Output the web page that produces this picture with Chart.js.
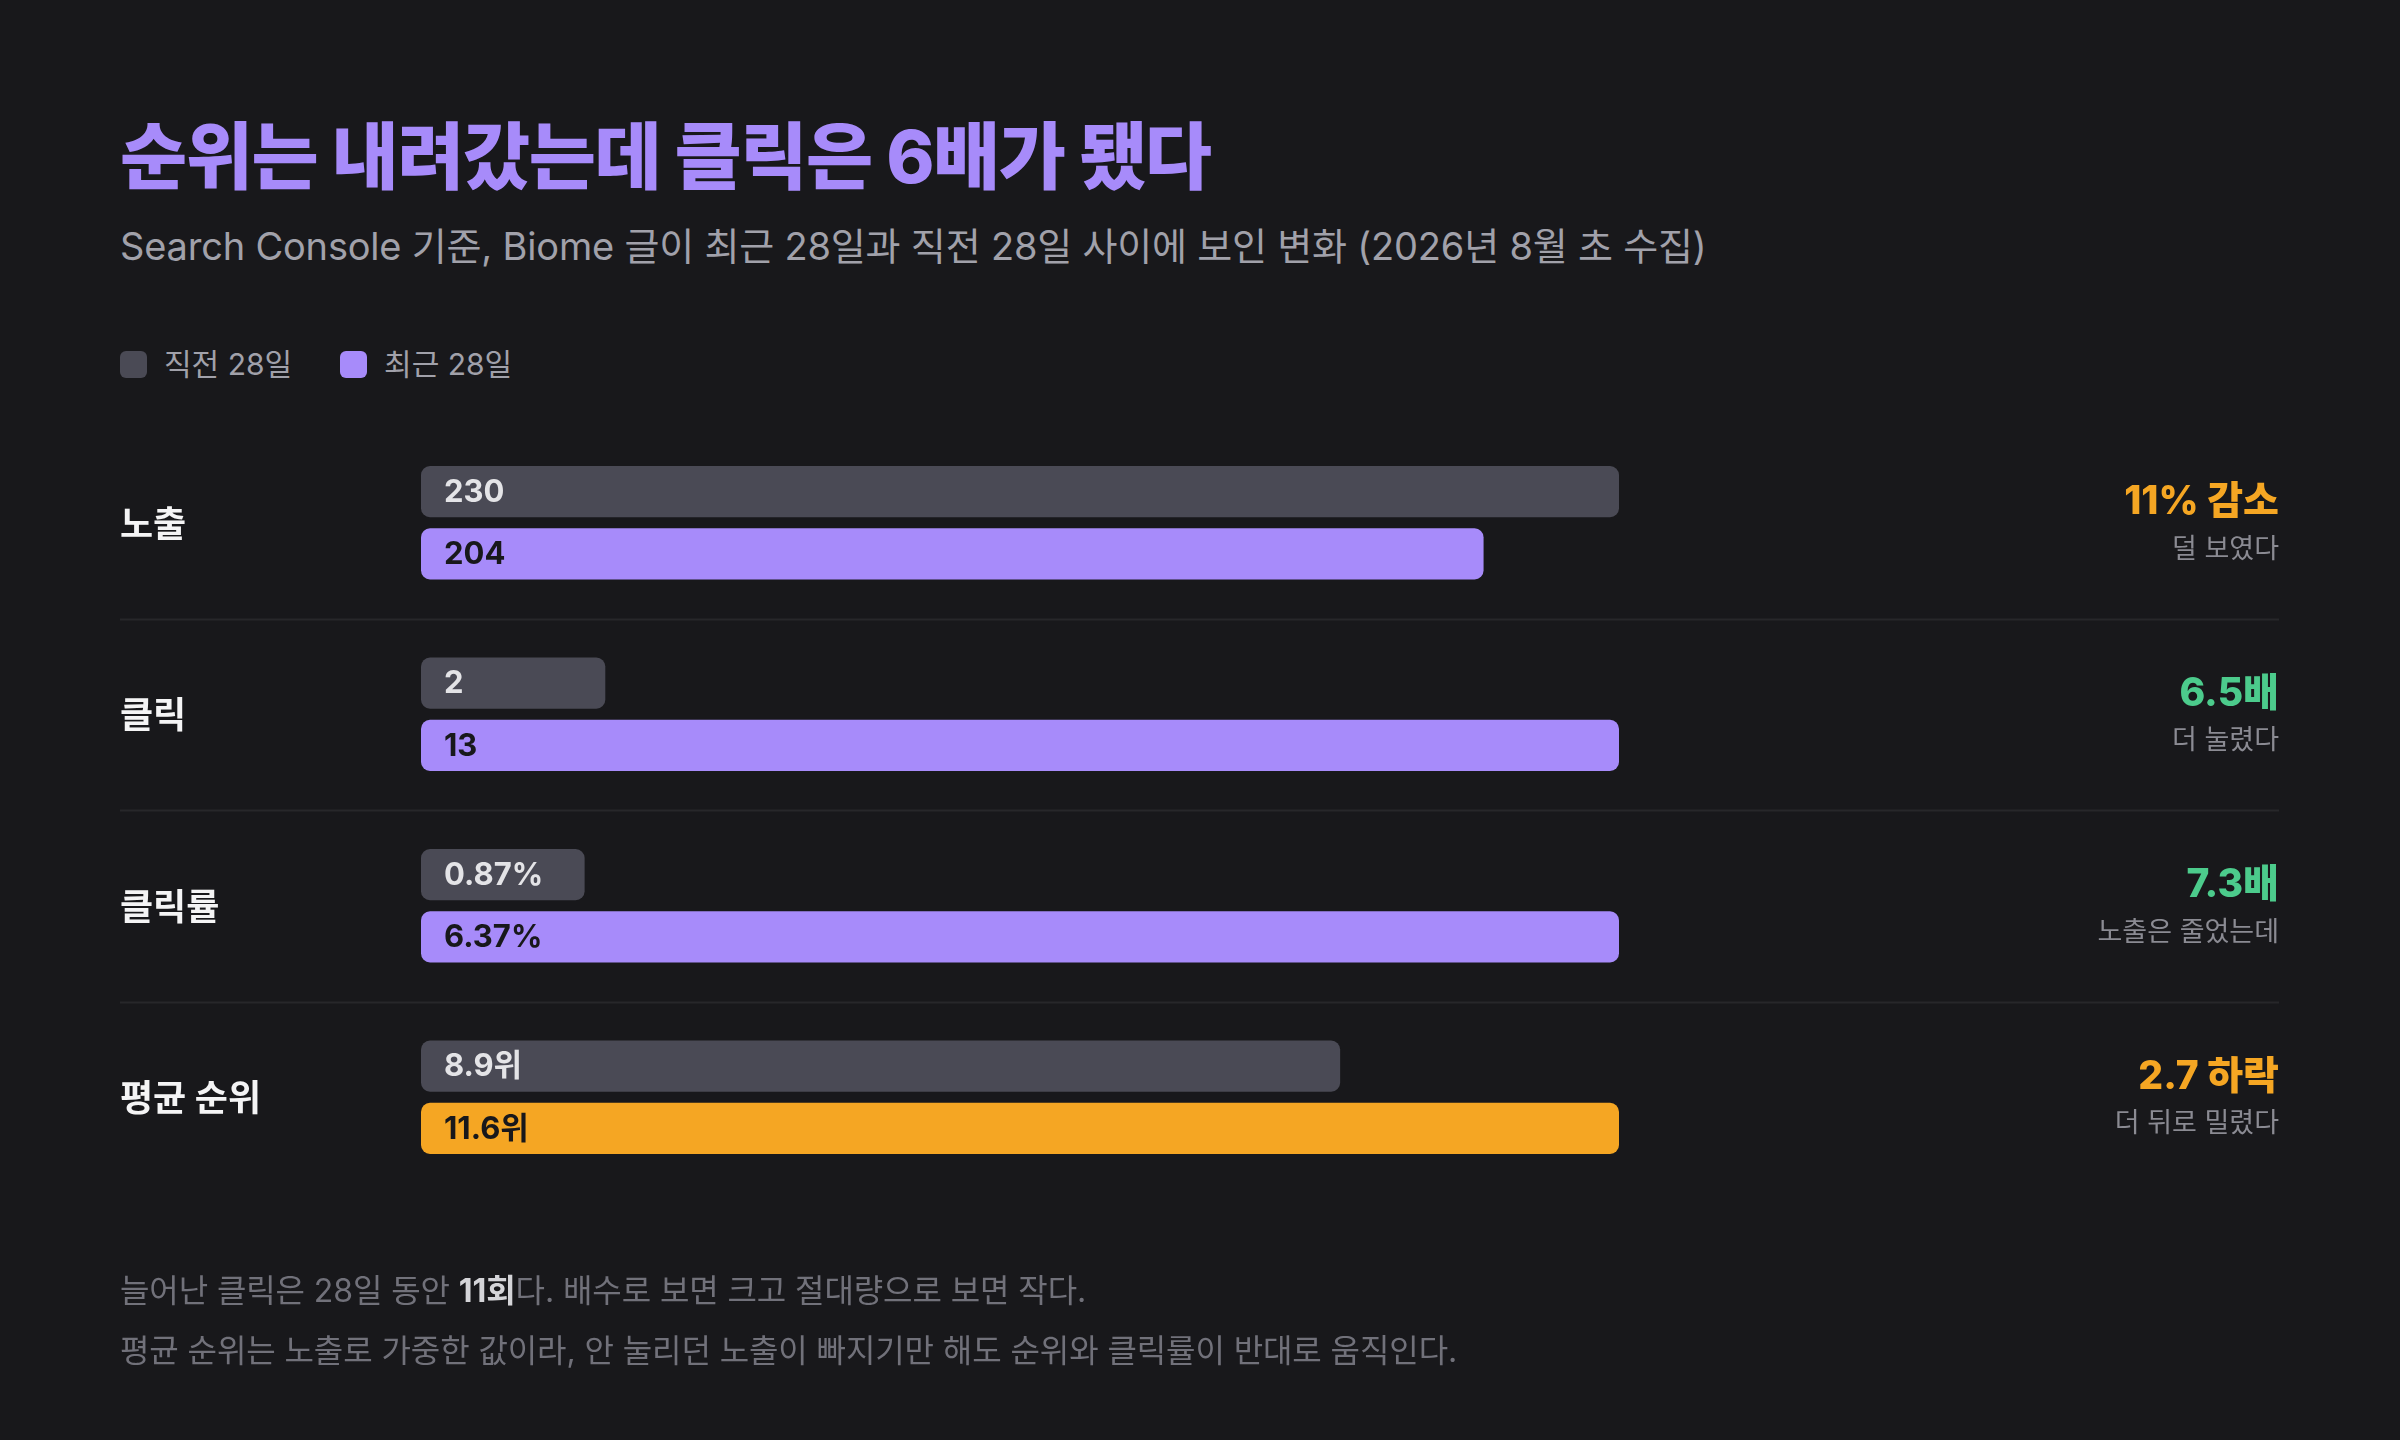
<!DOCTYPE html>
<html lang="ko">
<head>
<meta charset="utf-8">
<title>순위는 내려갔는데 클릭은 6배가 됐다</title>
<script src="https://cdn.jsdelivr.net/npm/chart.js@4.4.1/dist/chart.umd.min.js"></script>
<style>
  html, body { margin: 0; padding: 0; background: #18181b; }
  body { width: 2400px; height: 1440px; position: relative; overflow: hidden;
         font-family: "Inter", "Noto Sans CJK KR", sans-serif; }
  #title { position: absolute; left: 120px; top: 120px; margin: 0; font-size: 73px; font-weight: 800;
           color: #a78bfa; letter-spacing: -0.02em; line-height: 1; }
  #subtitle { position: absolute; left: 120px; top: 227px; margin: 0; font-size: 38px; font-weight: 400;
              color: #a1a1aa; line-height: 1; letter-spacing: -0.005em; }
  #legend { position: absolute; left: 120px; top: 349px; display: flex; gap: 48px; font-size: 30px; color: #a1a1aa; }
  #legend span { display: flex; align-items: center; line-height: 1; }
  #legend i { width: 27px; height: 27px; border-radius: 6px; margin-right: 17px; display: inline-block; }
  #wrap { position: absolute; left: 0; top: 0; width: 2400px; height: 1440px; }
  .note { position: absolute; left: 120px; margin: 0; font-size: 32px; color: #71717a; line-height: 1; letter-spacing: -0.003em; }
  .note b { color: #d4d4d8; font-weight: 700; }
</style>
</head>
<body>
<h1 id="title">순위는 내려갔는데 클릭은 6배가 됐다</h1>
<p id="subtitle">Search Console 기준, Biome 글이 최근 28일과 직전 28일 사이에 보인 변화 (2026년 8월 초 수집)</p>
<div id="legend">
  <span><i style="background:#4a4a55"></i>직전 28일</span>
  <span><i style="background:#a78bfa"></i>최근 28일</span>
</div>
<div id="wrap"><canvas id="chart"></canvas></div>
<p class="note" style="top:1275px">늘어난 클릭은 28일 동안 <b>11회</b>다. 배수로 보면 크고 절대량으로 보면 작다.</p>
<p class="note" style="top:1335px">평균 순위는 노출로 가중한 값이라, 안 눌리던 노출이 빠지기만 해도 순위와 클릭률이 반대로 움직인다.</p>
<script>
// data
const metrics = ['노출', '클릭', '클릭률', '평균 순위'];
const prevValues = [230, 2, 0.87, 8.9];
const recentValues = [204, 13, 6.37, 11.6];
const prevLabels = ['230', '2', '0.87%', '8.9위'];
const recentLabels = ['204', '13', '6.37%', '11.6위'];
const changeLabels = ['11% 감소', '6.5배', '7.3배', '2.7 하락'];
const changeNotes = ['덜 보였다', '더 눌렸다', '노출은 줄었는데', '더 뒤로 밀렸다'];
const changeGood = [false, true, true, false];

const FONT = '"Inter", "Noto Sans CJK KR", sans-serif';
const PURPLE = '#a78bfa', ORANGE = '#f5a623', GREEN = '#4ccb8c', GREY_BAR = '#4a4a55';

// each row is scaled to its own larger value
const rowMax = metrics.map((m, i) => Math.max(prevValues[i], recentValues[i]));
const prevPct = prevValues.map((v, i) => v / rowMax[i] * 100);
const recentPct = recentValues.map((v, i) => v / rowMax[i] * 100);

const rowDecor = {
  id: 'rowDecor',
  beforeDatasetsDraw(chart) {
    const {ctx, scales: {y}} = chart;
    ctx.save();
    ctx.strokeStyle = '#27272a';
    ctx.lineWidth = 2;
    for (let i = 0; i < metrics.length - 1; i++) {
      const yy = Math.round((y.getPixelForValue(i) + y.getPixelForValue(i + 1)) / 2) + 0.5;
      ctx.beginPath();
      ctx.moveTo(120, yy);
      ctx.lineTo(2279, yy);
      ctx.stroke();
    }
    ctx.restore();
  },
  afterDatasetsDraw(chart) {
    const {ctx, scales: {y}} = chart;
    ctx.save();
    ctx.textBaseline = 'middle';
    // row labels
    ctx.fillStyle = '#f4f4f5';
    ctx.font = '700 36px ' + FONT;
    ctx.textAlign = 'left';
    metrics.forEach((m, i) => ctx.fillText(m, 120, y.getPixelForValue(i) + 3));
    // values inside bars
    ctx.font = '700 31px ' + FONT;
    chart.getDatasetMeta(0).data.forEach((bar, i) => {
      ctx.fillStyle = '#e4e4e7';
      ctx.fillText(prevLabels[i], bar.base + 23, bar.y + 1);
    });
    chart.getDatasetMeta(1).data.forEach((bar, i) => {
      ctx.fillStyle = '#18181b';
      ctx.fillText(recentLabels[i], bar.base + 23, bar.y + 1);
    });
    // change annotations on the right
    ctx.textAlign = 'right';
    metrics.forEach((m, i) => {
      const cy = y.getPixelForValue(i);
      ctx.font = '800 39px ' + FONT;
      ctx.fillStyle = changeGood[i] ? GREEN : ORANGE;
      ctx.fillText(changeLabels[i], 2279, cy - 20);
      ctx.font = '400 27px ' + FONT;
      ctx.fillStyle = '#8b8b93';
      ctx.fillText(changeNotes[i], 2279, cy + 27);
    });
    ctx.restore();
  }
};

document.fonts.ready.then(() => {
  new Chart(document.getElementById('chart'), {
    type: 'bar',
    data: {
      labels: metrics,
      datasets: [
        { label: '직전 28일', data: prevPct, backgroundColor: GREY_BAR },
        { label: '최근 28일', data: recentPct,
          backgroundColor: metrics.map((m, i) => i === 3 ? ORANGE : PURPLE) }
      ]
    },
    options: {
      indexAxis: 'y',
      responsive: true,
      maintainAspectRatio: false,
      animation: false,
      devicePixelRatio: 1,
      layout: { padding: { left: 421, right: 781, top: 427, bottom: 247 } },
      datasets: { bar: { categoryPercentage: 0.65, barPercentage: 0.82, borderRadius: 9, borderSkipped: false } },
      scales: {
        x: { display: false, min: 0, max: 100 },
        y: { display: false }
      },
      plugins: { legend: { display: false }, tooltip: { enabled: false }, title: { display: false } }
    },
    plugins: [rowDecor]
  });
});
</script>
</body>
</html>
